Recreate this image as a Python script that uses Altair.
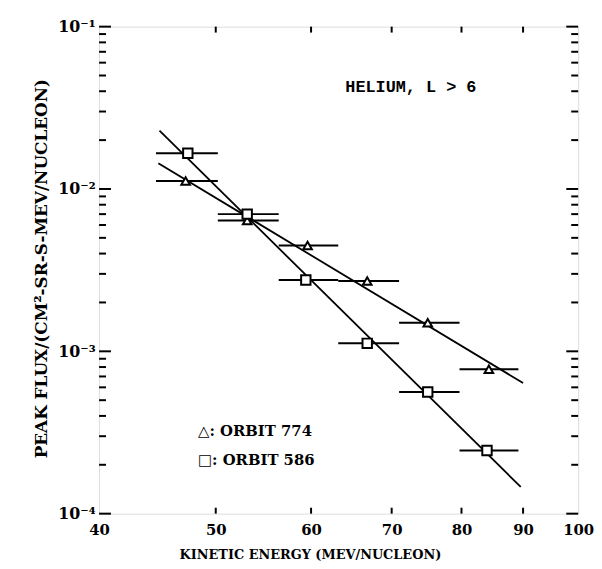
import altair as alt
import pandas as pd

# ---- data ----
bin_lo = [44.6, 50.2, 56.4, 63.2, 71.0, 79.7]
bin_hi = [50.2, 56.4, 63.2, 71.0, 79.7, 89.2]

tri_energy = [47.2, 53.1, 59.6, 66.8, 75.0, 84.3]
tri_flux = [0.0112, 0.0064, 0.00449, 0.00271, 0.00150, 0.000776]

sq_energy = [47.4, 53.1, 59.4, 66.8, 75.0, 84.0]
sq_flux = [0.0166, 0.0070, 0.00275, 0.00112, 0.000562, 0.000245]

tri_fit_x = [44.8, 90.0]
tri_fit_y = [0.0144, 0.000638]
sq_fit_x = [44.9, 89.6]
sq_fit_y = [0.0229, 0.000146]

x_ticks = [40, 50, 60, 70, 80, 90, 100]
x_inner_ticks = [50, 60, 70, 80, 90]
y_major = [1e-4, 1e-3, 1e-2, 1e-1]
y_minor = [m * d for d in [1e-4, 1e-3, 1e-2] for m in range(2, 10)]

W, H = 484, 492
FONT = "DejaVu Serif"

pts = pd.DataFrame({
    "energy": tri_energy + sq_energy,
    "flux": tri_flux + sq_flux,
    "lo": bin_lo + bin_lo,
    "hi": bin_hi + bin_hi,
    "orbit": ["774"] * 6 + ["586"] * 6,
})
fits = pd.DataFrame({
    "energy": tri_fit_x + sq_fit_x,
    "flux": tri_fit_y + sq_fit_y,
    "orbit": ["774"] * 2 + ["586"] * 2,
})

xscale = alt.Scale(type="log", domain=[40, 100], nice=False)
yscale = alt.Scale(type="log", domain=[1e-4, 1e-1], nice=False)

xaxis = alt.Axis(
    values=x_ticks, ticks=False, grid=False, domain=False,
    labelFont=FONT, labelFontWeight="bold", labelFontSize=15, labelColor="black",
    labelPadding=9, labelFlush=False, labelExpr="datum.value",
    title="KINETIC ENERGY (MEV/NUCLEON)", titleFont=FONT, titleFontWeight="bold",
    titleFontSize=13, titleColor="black", titleX=213, titleY=35,
)
yaxis = alt.Axis(
    values=y_major, ticks=False, grid=False, domain=False,
    labelFont=FONT, labelFontWeight="bold", labelFontSize=16, labelColor="black",
    labelPadding=4, labelFlush=False,
    labelExpr="datum.value >= 0.09 ? '10⁻¹' : datum.value >= 0.009 ? '10⁻²' : datum.value >= 0.0009 ? '10⁻³' : '10⁻⁴'",
    title="PEAK FLUX/(CM²-SR-S-MEV/NUCLEON)", titleFont=FONT, titleFontWeight="bold",
    titleFontSize=17, titleColor="black", titleX=-58, titleY=244, titleAngle=-90,
    titleBaseline="middle", titleAnchor="middle", titleAlign="center",
)

base = alt.Chart(pts)

bars = base.mark_rule(color="black", strokeWidth=2).encode(
    x=alt.X("lo:Q", scale=xscale, axis=xaxis),
    x2="hi:Q",
    y=alt.Y("flux:Q", scale=yscale, axis=yaxis),
)

lines = alt.Chart(fits).mark_line(color="black", strokeWidth=1.8).encode(
    x=alt.X("energy:Q", scale=xscale),
    y=alt.Y("flux:Q", scale=yscale),
    detail="orbit:N",
)

points = base.mark_point(filled=True, fill="white", stroke="black", strokeWidth=2, opacity=1).encode(
    x=alt.X("energy:Q", scale=xscale),
    y=alt.Y("flux:Q", scale=yscale),
    shape=alt.Shape("orbit:N", scale=alt.Scale(domain=["774", "586"], range=["triangle-up", "square"]), legend=None),
    size=alt.Size("orbit:N", scale=alt.Scale(domain=["774", "586"], range=[75, 90]), legend=None),
)

xt = pd.DataFrame({"v": x_inner_ticks})
xtop = alt.Chart(xt).mark_rule(color="black", strokeWidth=2).encode(
    x=alt.X("v:Q", scale=xscale), y=alt.value(0), y2=alt.value(6))
xbot = alt.Chart(xt).mark_rule(color="black", strokeWidth=2).encode(
    x=alt.X("v:Q", scale=xscale), y=alt.value(H - 6), y2=alt.value(H))

ymj = pd.DataFrame({"v": y_major})
ymn = pd.DataFrame({"v": y_minor})
yl_major = alt.Chart(ymj).mark_rule(color="black", strokeWidth=2).encode(
    y=alt.Y("v:Q", scale=yscale), x=alt.value(0), x2=alt.value(12))
yr_major = alt.Chart(ymj).mark_rule(color="black", strokeWidth=2).encode(
    y=alt.Y("v:Q", scale=yscale), x=alt.value(W - 12), x2=alt.value(W))
yl_minor = alt.Chart(ymn).mark_rule(color="black", strokeWidth=2).encode(
    y=alt.Y("v:Q", scale=yscale), x=alt.value(0), x2=alt.value(7))
yr_minor = alt.Chart(ymn).mark_rule(color="black", strokeWidth=2).encode(
    y=alt.Y("v:Q", scale=yscale), x=alt.value(W - 7), x2=alt.value(W))

labels = pd.DataFrame({"t": ["HELIUM, L > 6"]})
title_txt = alt.Chart(labels).mark_text(
    font="Liberation Mono", fontWeight="bold", fontSize=17, color="black", align="center", baseline="middle"
).encode(text="t:N", x=alt.value(315), y=alt.value(61))

legend_df = pd.DataFrame({"t": ["△: ORBIT 774", "□: ORBIT 586"], "yy": [409, 438]})
legend_txt = alt.Chart(legend_df).mark_text(
    font=FONT, fontWeight="bold", fontSize=15, color="black", align="left", baseline="middle"
).encode(text="t:N", x=alt.value(100), y=alt.Y("yy:Q", scale=None))

chart = alt.layer(
    bars, lines, points, xtop, xbot, yl_major, yr_major, yl_minor, yr_minor, title_txt, legend_txt
).properties(
    width=W, height=H,
    autosize=alt.AutoSizeParams(type="none"),
    padding={"left": 92, "top": 16, "right": 16, "bottom": 45},
).configure_view(
    stroke="black", strokeWidth=2.5
).configure(background="white")

chart.save("out.html", embed_options={"renderer": "svg", "actions": False})
